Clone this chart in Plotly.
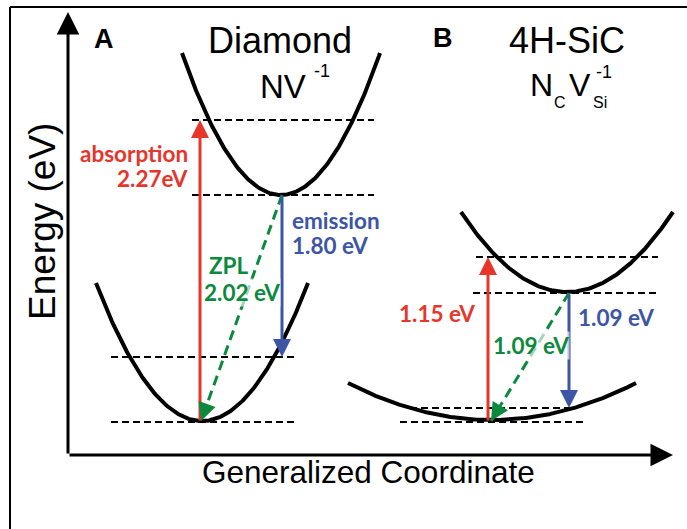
import numpy as np
import plotly.graph_objects as go

W, H = 687, 529

# ---------------- data (schematic units: q = generalized coordinate, E = energy) -------------
# potential-energy parabolas: centre q0, minimum E0, half-width w, rise h at q0 +/- w
curve_names = ["Diamond excited", "Diamond ground", "SiC excited", "SiC ground"]
curve_q0 = [281, 202, 567, 492]
curve_E0 = [334, 108, 237, 109]
curve_w = [99, 106, 106, 144]
curve_h = [142, 138, 80, 37]

# vibrational / electronic levels (dashed)
level_E = [409, 334, 172, 107, 272, 236, 121, 107]
level_q_start = [192, 192, 111, 111, 476, 473, 410, 400]
level_q_end = [374, 374, 294, 294, 658, 657, 570, 583]

# transitions: (q_from, E_from) -> (q_to, E_to)
trans_kind = ["absorption", "emission", "zpl", "absorption", "emission", "zpl"]
trans_q_from = [200, 282, 282, 488, 569, 569]
trans_E_from = [107, 334, 334, 107, 236, 236]
trans_q_to = [200, 282, 201, 488, 569, 491]
trans_E_to = [409, 172, 108, 272, 121, 108]

# axes of the schematic
axis_origin = (68, 74)
axis_q_end = 673
axis_E_end = 517

RED = "#e8352b"
BLUE = "#3d55a5"
GREEN = "#0b8a3e"
kind_color = {"absorption": RED, "emission": BLUE, "zpl": GREEN}

fig = go.Figure()

# parabolas
for q0, E0, w, h in zip(curve_q0, curve_E0, curve_w, curve_h):
    q = np.linspace(q0 - w, q0 + w, 200)
    E = E0 + h * ((q - q0) / w) ** 2
    fig.add_trace(go.Scatter(x=q, y=E, mode="lines",
                             line=dict(color="black", width=4), hoverinfo="skip"))

# dashed levels
for E, qa, qb in zip(level_E, level_q_start, level_q_end):
    fig.add_trace(go.Scatter(x=[qa, qb], y=[E, E], mode="lines",
                             line=dict(color="black", width=2, dash="7px,4px"),
                             hoverinfo="skip"))

annotations = []
# transitions
for kind, qa, Ea, qb, Eb in zip(trans_kind, trans_q_from, trans_E_from, trans_q_to, trans_E_to):
    col = kind_color[kind]
    if kind == "zpl":
        fig.add_trace(go.Scatter(x=[qa, qb], y=[Ea, Eb], mode="lines",
                                 line=dict(color=col, width=3, dash="10px,6px"),
                                 hoverinfo="skip"))
        d = np.hypot(qa - qb, Ea - Eb)
        ax = qb + (qa - qb) / d * 16
        ay = Eb + (Ea - Eb) / d * 16
        annotations.append(dict(x=qb, y=Eb, ax=ax, ay=ay, xref="x", yref="y",
                                axref="x", ayref="y", showarrow=True, text="",
                                arrowhead=2, arrowsize=1.2, arrowwidth=3,
                                arrowcolor=col, standoff=0))
    else:
        annotations.append(dict(x=qb, y=Eb, ax=qa, ay=Ea, xref="x", yref="y",
                                axref="x", ayref="y", showarrow=True, text="",
                                arrowhead=2, arrowsize=1.2, arrowwidth=3,
                                arrowcolor=col, standoff=0))

# axis arrows
annotations.append(dict(x=axis_origin[0], y=axis_E_end, ax=axis_origin[0], ay=axis_origin[1],
                        xref="x", yref="y", axref="x", ayref="y", showarrow=True, text="",
                        arrowhead=2, arrowsize=1.5, arrowwidth=3, arrowcolor="black", standoff=0))
annotations.append(dict(x=axis_q_end, y=axis_origin[1], ax=axis_origin[0], ay=axis_origin[1],
                        xref="x", yref="y", axref="x", ayref="y", showarrow=True, text="",
                        arrowhead=2, arrowsize=1.5, arrowwidth=3, arrowcolor="black", standoff=0))

SANS = "Liberation Sans, Arial, sans-serif"
BOLDF = "Lato, Noto Sans, sans-serif"


def txt(x, y, s, size, color="black", family=SANS, xanchor="center", bold=False,
        angle=0, bg=None):
    d = dict(x=x, y=H - y, xref="x", yref="y", text=s, showarrow=False,
             font=dict(family=family, size=size, color=color,
                       weight="bold" if bold else "normal"),
             xanchor=xanchor, yanchor="middle", textangle=angle)
    if bg:
        d["bgcolor"] = bg
        d["borderpad"] = 0
    annotations.append(d)


txt(104, 39, "A", 27, bold=True)
txt(280, 40, "Diamond", 36)
txt(283, 86, "NV", 33)
txt(322, 71, "-1", 18)
txt(443, 38, "B", 27, bold=True)
txt(567, 40, "4H-SiC", 36)
txt(541, 85, "N", 32)
txt(560, 102, "C", 16)
txt(580, 85, "V", 32)
txt(604, 72, "-1", 18)
txt(600, 102, "Si", 16)

GREEN_BG = "rgba(255,255,255,0.65)"
txt(190, 153, "absorption", 22.5, RED, BOLDF, "right", True)
txt(190, 178, "2.27eV", 22.5, RED, BOLDF, "right", True)
txt(290, 220, "emission", 22.5, BLUE, BOLDF, "left", True)
txt(290, 245, "1.80 eV", 22.5, BLUE, BOLDF, "left", True)
txt(207, 265, "ZPL", 22.5, GREEN, BOLDF, "left", True)
txt(203, 292, "2.02 eV", 22.5, GREEN, BOLDF, "left", True, bg=GREEN_BG)
txt(477, 313, "1.15 eV", 22.5, RED, BOLDF, "right", True)
txt(576, 317, "1.09 eV", 22.5, BLUE, BOLDF, "left", True)
txt(492, 345, "1.09 eV", 22.5, GREEN, BOLDF, "left", True, bg=GREEN_BG)

txt(42, 222, "Energy (eV)", 37, angle=-90)
txt(368, 472, "Generalized Coordinate", 31.5)

fig.update_layout(
    width=W, height=H, autosize=False,
    margin=dict(l=0, r=0, t=0, b=0),
    paper_bgcolor="white", plot_bgcolor="white",
    showlegend=False,
    xaxis=dict(range=[0, W], visible=False, fixedrange=True),
    yaxis=dict(range=[0, H], visible=False, fixedrange=True),
    annotations=annotations,
    shapes=[
        dict(type="line", xref="paper", yref="paper", x0=10 / W, x1=1, y0=1 - 7 / H, y1=1 - 7 / H,
             line=dict(color="black", width=2)),
        dict(type="line", xref="paper", yref="paper", x0=10 / W, x1=10 / W, y0=0, y1=1 - 7 / H,
             line=dict(color="black", width=2)),
    ],
)

fig.write_html("out.html", config={"displayModeBar": False})
